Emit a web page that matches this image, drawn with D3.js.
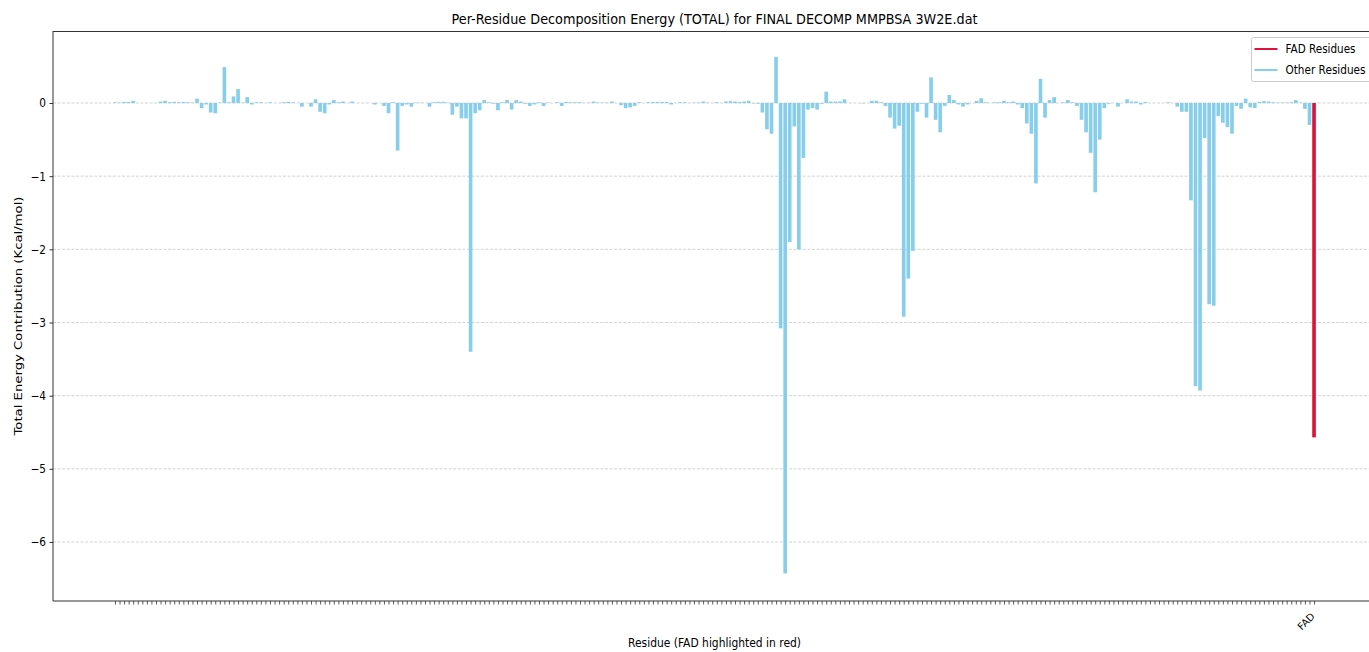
<!DOCTYPE html>
<html>
<head>
<meta charset="utf-8">
<script src="https://cdn.jsdelivr.net/npm/d3@7"></script>
<style>
  body { margin: 0; background: #fff; overflow: hidden; }
  text { font-family: "DejaVu Sans", sans-serif; fill: #000; }
</style>
</head>
<body>
<div id="app"></div>
<script>
const WIDTH = 1369
const HEIGHT = 652
const LEFT = 53, RIGHT = 1376, TOP = 31, BOTTOM = 601
const SQUEEZE = 0.875

// per-residue total energy (kcal/mol), in residue order
const energies = [
  0.01, 0.005, 0.015, 0.015, 0.03, 0, 0, 0, 0, 0,
  0.02, 0.03, 0.01, 0.015, 0.01, 0.015, 0.01, 0.005, 0.06, -0.07,
  -0.02, -0.13, -0.14, 0.005, 0.49, 0.01, 0.09, 0.19, 0.005, 0.08,
  -0.02, 0.01, 0.01, 0, 0.01, 0, 0, 0.01, 0.015, 0.01,
  0, -0.05, 0, -0.05, 0.05, -0.12, -0.14, -0.02, 0.04, 0.01,
  0.02, 0, 0.02, 0, 0, 0, 0, -0.02, 0, -0.04,
  -0.14, 0.01, -0.65, -0.04, -0.02, -0.05, 0.005, 0.005, 0, -0.05,
  0.01, 0.015, 0.015, 0.005, -0.16, -0.05, -0.21, -0.21, -3.40, -0.14,
  -0.10, 0.04, 0.01, -0.01, -0.10, 0.01, 0.04, -0.09, 0.04, 0.02,
  -0.01, -0.04, -0.02, 0.01, -0.04, 0.005, 0, 0.01, -0.04, 0.015,
  0.01, 0.01, 0.01, 0, 0.005, 0.02, 0.005, 0.005, 0.005, 0.02,
  0, -0.03, -0.07, -0.06, -0.04, 0.01, 0, 0.01, 0.015, 0.015,
  0.015, 0.015, -0.02, 0, 0.01, 0.01, 0, 0.005, 0.005, 0.02,
  0.005, 0, 0.01, 0, 0.02, 0.025, 0.02, 0.015, 0.02, 0.03,
  -0.005, -0.01, -0.13, -0.36, -0.42, 0.63, -3.08, -6.43, -1.90, -0.32,
  -2.00, -0.75, -0.09, -0.07, -0.09, -0.01, 0.155, 0.02, 0.02, 0.02,
  0.05, 0, 0, 0, -0.005, 0, 0.03, 0.03, 0.01, -0.04,
  -0.20, -0.35, -0.31, -2.92, -2.40, -2.02, -0.12, -0.01, -0.20, 0.35,
  -0.23, -0.40, -0.04, 0.11, 0.04, -0.02, -0.05, -0.02, 0, 0.03,
  0.065, 0.01, 0, 0.01, 0.01, 0.03, 0.01, 0.02, -0.02, -0.07,
  -0.28, -0.42, -1.10, 0.33, -0.20, 0.04, 0.08, 0, 0.01, 0.04,
  0.01, -0.04, -0.23, -0.40, -0.68, -1.22, -0.50, -0.07, -0.01, 0,
  -0.05, 0, 0.05, 0.02, 0.02, -0.02, 0.015, 0, 0, 0,
  0, 0.01, 0, -0.05, -0.12, -0.12, -1.33, -3.87, -3.93, -0.48,
  -2.75, -2.77, -0.18, -0.27, -0.33, -0.42, -0.04, -0.08, 0.06, -0.06,
  -0.07, 0.015, 0.025, 0.02, 0.01, 0.005, 0.005, 0.005, 0.01, 0.04,
  0.005, -0.08, -0.30
]
const fadEnergy = -4.57
const fadLabel = 'FAD'
const yTicks = [-6, -5, -4, -3, -2, -1, 0]
const legendItems = ['FAD Residues', 'Other Residues']

const OTHER_COLOR = '#87ceeb'
const FAD_COLOR = '#dc143c'

const residues = energies.map((v, i) => ({ i: i, v: v, fad: false }))
residues.push({ i: energies.length, v: fadEnergy, fad: true })
const n = residues.length

// matplotlib-like limits: bars of width 0.8 plus 5% margin
const pad = 0.05 * (n - 0.2)
const x = d3.scaleLinear()
  .domain([-0.4 - pad, n - 1 + 0.4 + pad])
  .range([LEFT, RIGHT])
const step = x(1) - x(0)

const y = d3.scaleLinear()
  .domain([-6.806, 0.984])
  .range([BOTTOM, TOP])

const svg = d3.select('#app').append('svg')
  .attr('width', WIDTH)
  .attr('height', HEIGHT)

// grid
svg.append('g')
  .selectAll('line')
  .data(yTicks)
  .enter().append('line')
  .attr('x1', LEFT)
  .attr('x2', RIGHT)
  .attr('y1', d => y(d))
  .attr('y2', d => y(d))
  .attr('stroke', '#c8c8c8')
  .attr('stroke-width', 0.8)
  .attr('stroke-dasharray', '3,1.6')

// bars
svg.append('g')
  .selectAll('rect')
  .data(residues)
  .enter().append('rect')
  .attr('x', d => x(d.i) - 0.4 * step)
  .attr('width', 0.8 * step)
  .attr('y', d => y(Math.max(0, d.v)))
  .attr('height', d => Math.abs(y(d.v) - y(0)))
  .attr('fill', d => d.fad ? FAD_COLOR : OTHER_COLOR)

// spines
const frame = svg.append('g').attr('stroke', '#333').attr('stroke-width', 1)
frame.append('line').attr('x1', LEFT).attr('x2', LEFT).attr('y1', TOP).attr('y2', BOTTOM)
frame.append('line').attr('x1', LEFT).attr('x2', RIGHT).attr('y1', TOP + 0.5).attr('y2', TOP + 0.5)
frame.append('line').attr('x1', LEFT).attr('x2', RIGHT).attr('y1', BOTTOM).attr('y2', BOTTOM)

// y axis
const yAxis = d3.axisLeft(y)
  .tickValues(yTicks)
  .tickFormat(d3.format('d'))
  .tickSize(3.5)
  .tickPadding(3.5)

svg.append('g')
  .attr('transform', 'translate(' + LEFT + ',0)')
  .call(yAxis)
  .call(g => g.select('.domain').remove())
  .call(g => g.selectAll('.tick line').attr('stroke', '#333'))
  .call(g => g.selectAll('.tick text').attr('class', 'squeeze').style('font-size', '12px').attr('font-family', null))

// x axis, one tick per residue
const xAxis = d3.axisBottom(x)
  .tickValues(d3.range(n))
  .tickFormat(i => residues[i].fad ? fadLabel : '')
  .tickSize(3.5)
  .tickPadding(3)

svg.append('g')
  .attr('transform', 'translate(0,' + BOTTOM + ')')
  .call(xAxis)
  .call(g => g.select('.domain').remove())
  .call(g => g.selectAll('.tick line').attr('stroke', '#333').attr('stroke-width', 0.8))
  .call(g => g.selectAll('.tick text')
    .attr('font-family', null)
    .style('font-size', '10px')
    .attr('text-anchor', 'end')
    .attr('y', 0)
    .attr('dy', 0)
    .attr('transform', 'translate(1,16) rotate(-45)'))

// titles
svg.append('text')
  .attr('x', (LEFT + RIGHT) / 2)
  .attr('y', 24)
  .attr('text-anchor', 'middle')
  .style('font-size', '14.5px')
  .attr('textLength', 526)
  .attr('lengthAdjust', 'spacingAndGlyphs')
  .text('Per-Residue Decomposition Energy (TOTAL) for FINAL DECOMP MMPBSA 3W2E.dat')

svg.append('text')
  .attr('x', (LEFT + RIGHT) / 2)
  .attr('y', 647)
  .attr('text-anchor', 'middle')
  .style('font-size', '12px')
  .attr('textLength', 173)
  .attr('lengthAdjust', 'spacingAndGlyphs')
  .text('Residue (FAD highlighted in red)')

svg.append('text')
  .attr('transform', 'translate(22,' + (TOP + BOTTOM) / 2 + ') rotate(-90)')
  .attr('text-anchor', 'middle')
  .style('font-size', '11px')
  .attr('textLength', 239)
  .attr('lengthAdjust', 'spacingAndGlyphs')
  .text('Total Energy Contribution (Kcal/mol)')

// legend
const legend = svg.append('g').attr('transform', 'translate(1251.5,37.5)')
legend.append('rect')
  .attr('width', 126)
  .attr('height', 44)
  .attr('rx', 2)
  .attr('fill', '#fff')
  .attr('fill-opacity', 0.8)
  .attr('stroke', '#cccccc')

const entry = legend.selectAll('.entry')
  .data(legendItems)
  .enter().append('g')
  .attr('class', 'entry')
  .attr('transform', (d, i) => 'translate(0,' + (11.5 + i * 21) + ')')

entry.append('line')
  .attr('x1', 3)
  .attr('x2', 26)
  .attr('stroke', (d, i) => i === 0 ? FAD_COLOR : OTHER_COLOR)
  .attr('stroke-width', 2)

entry.append('text')
  .attr('x', 34)
  .attr('y', 4.3)
  .style('font-size', '12px')
  .attr('textLength', (d, i) => i === 0 ? 70 : 80)
  .attr('lengthAdjust', 'spacingAndGlyphs')
  .text(d => d)

// squeeze tick labels the way the picture is squeezed sideways
svg.selectAll('text.squeeze').each(function () {
  const w = this.getComputedTextLength()
  this.setAttribute('textLength', w * SQUEEZE)
  this.setAttribute('lengthAdjust', 'spacingAndGlyphs')
})
</script>
</body>
</html>
